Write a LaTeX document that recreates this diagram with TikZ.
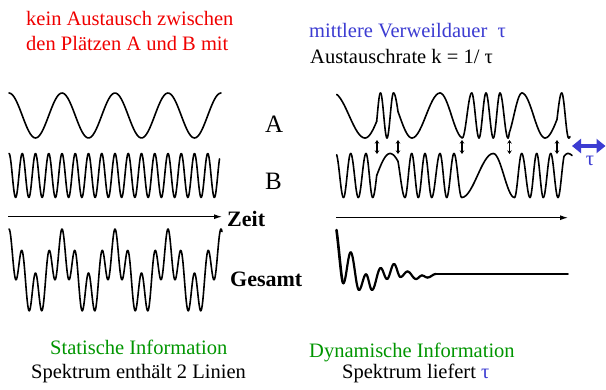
\documentclass[tikz,border=0pt]{standalone}
\usepackage{fontspec}
\setmainfont{Liberation Serif}
\usetikzlibrary{arrows.meta}
\definecolor{tred}{RGB}{240,0,0}
\definecolor{tblue}{RGB}{60,60,210}
\definecolor{tgreen}{RGB}{0,150,0}
\begin{document}
\begin{tikzpicture}[x=1pt,y=-1pt,
  txt/.style={font=\fontsize{20.5}{24}\selectfont, anchor=base west, inner sep=0pt},
  boldlab/.style={font=\fontsize{22}{26}\selectfont\bfseries, anchor=base west, inner sep=0pt},
  lab/.style={font=\fontsize{25}{30}\selectfont, anchor=base west, inner sep=0pt},
  wave/.style={line width=1.6pt, line cap=round, line join=round},
  decay/.style={line width=2.2pt, line cap=round, line join=round},
  axis/.style={line width=1.1pt, -{Latex[length=8pt,width=5pt]}},
  xch/.style={line width=1.1pt, {Stealth[length=3.5pt,width=4.5pt]}-{Stealth[length=3.5pt,width=4.5pt]}}]
\useasboundingbox[fill=white] (0,0) rectangle (606,390);

% texts
\node[txt, text=tred] (t1) at (26,26) {kein Austausch zwischen};
\node[txt, text=tred] (t2) at (26,50.7) {den Plätzen A und B mit};
\node[txt, text=tblue] (t3) at (309,37.3) {mittlere Verweildauer\ \ τ};
\node[txt] (t4) at (310,64) {Austauschrate k = 1/ τ};
\node[lab] (la) at (265,132.7) {A};
\node[lab] (lb) at (265,190) {B};
\node[boldlab] (zeit) at (227,226.7) {Zeit};
\node[boldlab] (ges) at (230,286.7) {Gesamt};
\node[txt, text=tgreen] (s1) at (50,355) {Statische Information};
\node[txt] (s2) at (31,378.3) {Spektrum enthält 2 Linien};
\node[txt, text=tgreen] (d1) at (309,357.7) {Dynamische Information};
\node[txt] (d2) at (342,379) {Spektrum liefert {\color{tblue}τ}};
\node[txt, anchor=base, text=tblue] (tau) at (590,166) {τ};

% blue double arrow
\coordinate (bl) at (572,146);
\coordinate (br) at (605.5,146);
\draw[tblue, line width=3.5pt, {Triangle[length=9pt,width=14pt]}-{Triangle[length=9pt,width=14pt]}] (bl) -- (br);

% axes
\coordinate (la0) at (8,216.7);
\coordinate (la1) at (222,216.7);
\draw[axis] (la0) -- (la1);
\coordinate (ra0) at (336,217.7);
\coordinate (ra1) at (568,217.7);
\draw[axis] (ra0) -- (ra1);

% left waves
\draw[wave] plot[variable=\t, domain=9:221, samples=120] (\t, {115.5-22.5*cos(((\t-9)/53)*360)});
\draw[wave] plot[variable=\t, domain=9:219.5, samples=400] (\t, {175.5-22*cos(((\t-9)/13.25)*360)});
\draw[wave] plot[variable=\t, domain=9:222, samples=400] (\t, {273-22*cos(((\t-9)/53)*360)-22*cos(((\t-9)/13.25)*360)});

% right top wave (exchange)
\foreach \xb/\pb [remember=\xb as \xa (initially 336.7), remember=\pb as \pa (initially 20)] in
  {365/180, 376.7/255, 380.5/360, 387/540, 393.5/720, 398/800, 412/900, 440/1080, 461.7/1250,
   471.7/1440, 479/1620, 486/1800, 493.3/1980, 500/2160, 508/2340, 509.3/2380, 522/2520, 545/2700,
   557/2780, 561.7/2880, 568.7/3060, 570/3080}
  \draw[wave] plot[variable=\t, domain=\xa:\xb, samples=16] (\t, {115.5-22.5*cos(\pa+(\pb-\pa)*((\t-\xa)/(\xb-\xa)))});

% right bottom wave (exchange)
\foreach \xb/\pb [remember=\xb as \xa (initially 336.7), remember=\pb as \pa (initially 20)] in
  {343.5/180, 350.7/360, 358.3/540, 366/720, 372.7/900, 376.7/990, 390/1080, 398/1130,
   405/1260, 411.7/1440, 418.3/1620, 425/1800, 431.7/1980, 440/2160, 446.7/2340, 454/2520, 461.7/2700,
   493.3/2880, 514.5/3060, 521.7/3240, 530/3420, 536.7/3600, 543.3/3780, 550.7/3960, 558/4140,
   564/4290, 568/4320, 572/4345}
  \draw[wave] plot[variable=\t, domain=\xa:\xb, samples=16] (\t, {175.5-22*cos(\pa+(\pb-\pa)*((\t-\xa)/(\xb-\xa)))});

% exchange arrows
\foreach \xx in {377,398,462,509.5,557}
  \draw[xch] (\xx,140) -- (\xx,154);

% decay (FID)
\coordinate (fs0) at (336.5,230);
\coordinate (fs1) at (343.3,283.3);
\draw[line width=2.6pt, line cap=round] (fs0) .. controls (339,248) and (341.5,283.3) .. (fs1);
\foreach \xb/\yb [remember=\xb as \xa (initially 343.3), remember=\yb as \ya (initially 283.3)] in
  {350.7/252.3, 359/290, 366/274.3, 372/290, 380.7/268, 387/279, 394/264,
   400.5/277, 407.5/271.5, 416/279, 422/275.5, 427.5/277.5, 436/274, 445/274}
  \draw[decay] plot[variable=\t, domain=\xa:\xb, samples=14] (\t, {(\ya+\yb)/2+(\ya-\yb)/2*cos(180*((\t-\xa)/(\xb-\xa)))});
\coordinate (fe0) at (445,274);
\coordinate (fe1) at (568,274);
\draw[line width=1.8pt, line cap=round] (fe0) -- (fe1);
\end{tikzpicture}
\end{document}
